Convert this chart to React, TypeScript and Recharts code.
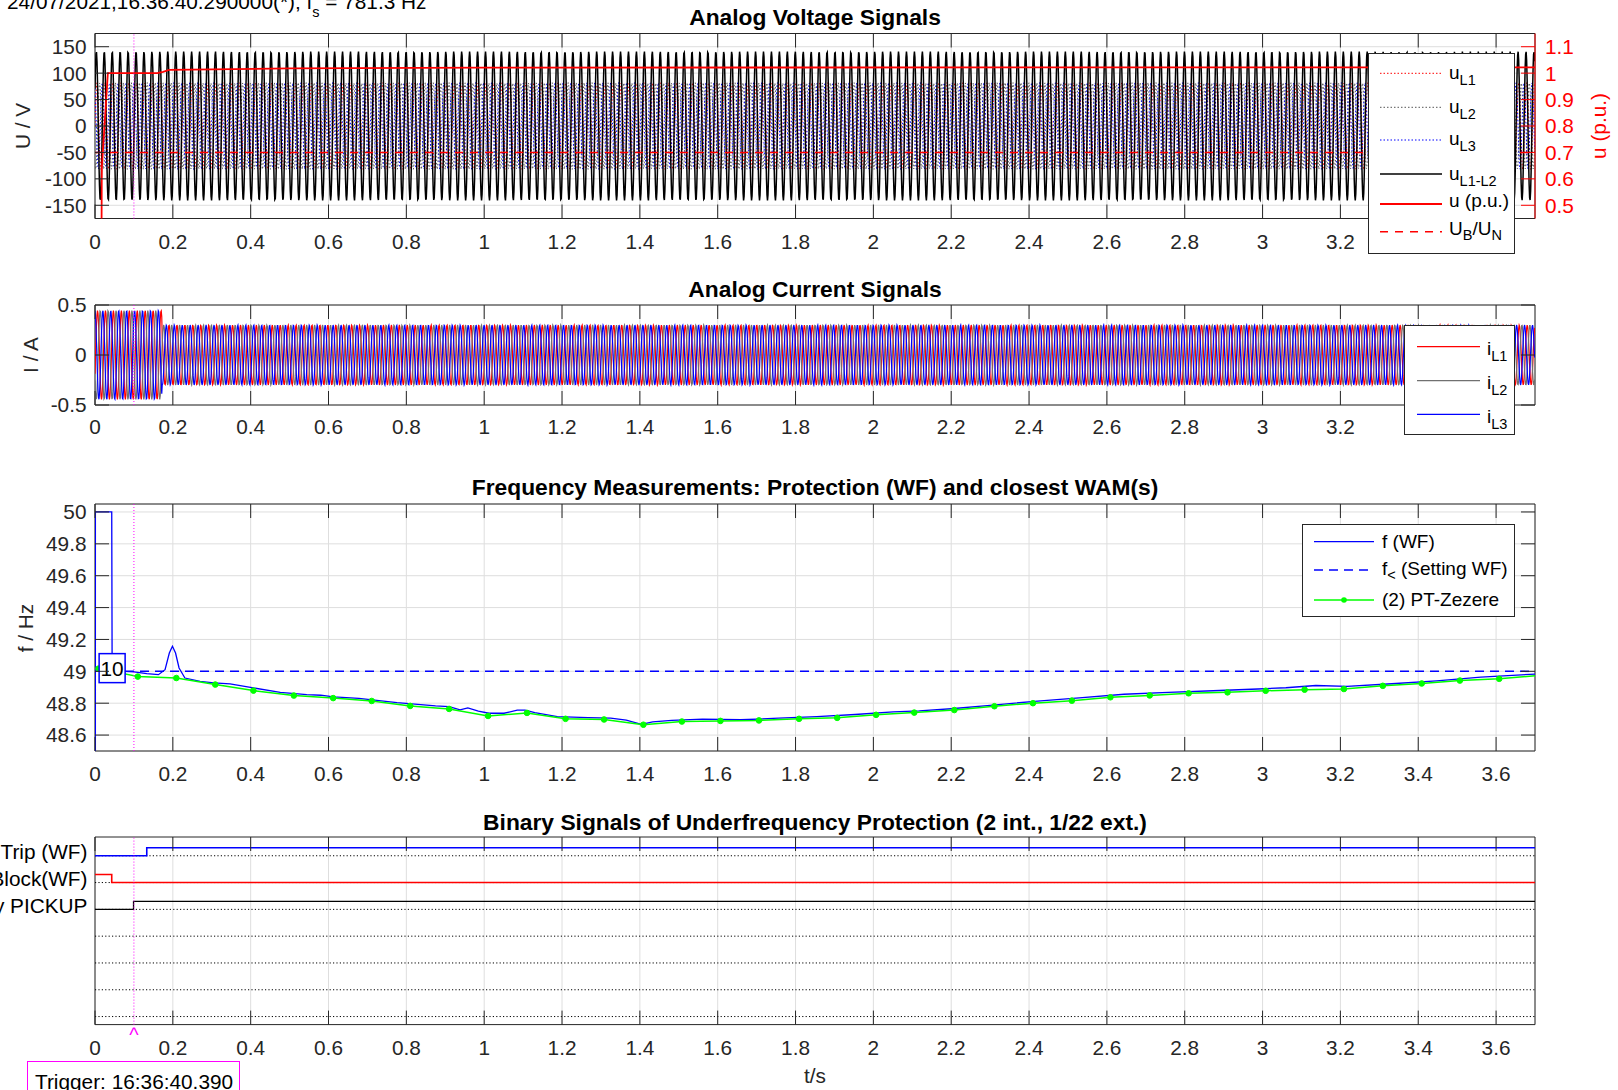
import React from 'react';
import {
  LineChart,
  Line,
  XAxis,
  YAxis,
  CartesianGrid,
  ReferenceLine,
  ReferenceArea,
  ReferenceDot,
} from 'recharts';

// record header
const recordStart = '24/07/2021,16:36:40.290000(*); f';
const sampleRate = 781.3; // Hz
const triggerTime = 0.1; // s
const triggerText = 'Trigger: 16:36:40.390';

// shared time axis
const tEnd = 3.7;
const timeTicks = [0, 0.2, 0.4, 0.6, 0.8, 1, 1.2, 1.4, 1.6, 1.8, 2, 2.2, 2.4, 2.6, 2.8, 3, 3.2, 3.4, 3.6];

// analog voltages
const voltDomain = [-175, 175];
const voltTicks = [-150, -100, -50, 0, 50, 100, 150];
const puDomain = [0.45, 1.15];
const puTicks = [0.5, 0.6, 0.7, 0.8, 0.9, 1, 1.1];
const waveFreq = 49; // Hz
const phaseVoltPeak = 82; // V
const lineVoltPeak = 141; // V
const puT = [0, 0.0165, 0.0175, 0.033, 0.16, 0.175, 0.19, 0.3, 0.5, 1.0, 3.7];
const puV = [0.2, 0.3, 0.64, 1.0, 1.0, 1.005, 1.012, 1.014, 1.018, 1.021, 1.022];
const ubUn = 0.7;

// analog currents
const currDomain = [-0.5, 0.5];
const currTicks = [-0.5, 0, 0.5];
const currStepT = [0, 0.172];
const currStepPeak = [0.445, 0.3];

// frequency
const freqDomain = [48.5, 50.05];
const freqTicks = [48.6, 48.8, 49, 49.2, 49.4, 49.6, 49.8, 50];
const fWfT = [0, 0.001, 0.043, 0.044, 0.077, 0.1, 0.133, 0.163, 0.18, 0.191, 0.199, 0.207, 0.216, 0.231, 0.27, 0.305, 0.347, 0.407, 0.476, 0.544, 0.58, 0.613, 0.678, 0.776, 0.875, 0.91, 0.938, 0.958, 0.985, 1.012, 1.051, 1.085, 1.105, 1.13, 1.188, 1.267, 1.325, 1.365, 1.404, 1.433, 1.482, 1.561, 1.659, 1.757, 1.855, 1.953, 2.051, 2.118, 2.2, 2.3, 2.414, 2.529, 2.644, 2.758, 2.873, 2.988, 3.06, 3.137, 3.217, 3.332, 3.447, 3.561, 3.7];
const fWfV = [0, 50, 50, 49.02, 49.0, 48.996, 48.985, 48.979, 49.01, 49.115, 49.157, 49.115, 49.021, 48.958, 48.937, 48.927, 48.921, 48.896, 48.868, 48.854, 48.85, 48.84, 48.83, 48.803, 48.783, 48.778, 48.758, 48.77, 48.75, 48.737, 48.737, 48.756, 48.756, 48.741, 48.716, 48.71, 48.706, 48.694, 48.667, 48.683, 48.692, 48.7, 48.696, 48.706, 48.716, 48.729, 48.745, 48.752, 48.765, 48.786, 48.812, 48.833, 48.856, 48.868, 48.878, 48.889, 48.897, 48.911, 48.905, 48.922, 48.94, 48.963, 48.983];
const fSetting = 49;
const pmuT = [0.009, 0.11, 0.209, 0.309, 0.407, 0.511, 0.612, 0.711, 0.81, 0.91, 1.01, 1.11, 1.209, 1.308, 1.409, 1.508, 1.607, 1.706, 1.809, 1.907, 2.007, 2.105, 2.208, 2.311, 2.41, 2.51, 2.609, 2.71, 2.81, 2.91, 3.008, 3.108, 3.209, 3.309, 3.409, 3.507, 3.608, 3.72];
const pmuV = [49.017, 48.967, 48.958, 48.917, 48.879, 48.848, 48.832, 48.814, 48.783, 48.764, 48.72, 48.739, 48.702, 48.698, 48.665, 48.685, 48.689, 48.692, 48.702, 48.708, 48.727, 48.741, 48.757, 48.781, 48.8, 48.816, 48.837, 48.849, 48.862, 48.868, 48.878, 48.885, 48.889, 48.909, 48.924, 48.942, 48.953, 48.977];
const fMarkText = '10';
const fMarkT = 0.044;
const fMarkV = 49.02;

// binary signals
const binNames = ['Trip (WF)', 'Block(WF)', 'Underfrequency PICKUP'];
const binChannels = 7;
const tripT = [0, 0.133, 3.7];
const tripS = [0, 1, 1];
const blockT = [0, 0.043, 3.7];
const blockS = [1, 0, 0];
const pickupT = [0, 0.099, 3.7];
const pickupS = [0, 1, 1];

// ---- tables built from the values above ----
const rad = Math.PI / 180;
const nSamples = Math.floor(tEnd * sampleRate) + 1;
const waveTable = Array.from({ length: nSamples }, (_, i) => {
  const t = i / sampleRate;
  const wt = 2 * Math.PI * waveFreq * t;
  let ip = currStepPeak[0];
  currStepT.forEach((ts, k) => {
    if (t >= ts) ip = currStepPeak[k];
  });
  return {
    t,
    uL1: phaseVoltPeak * Math.sin(wt),
    uL2: phaseVoltPeak * Math.sin(wt - 120 * rad),
    uL3: phaseVoltPeak * Math.sin(wt + 120 * rad),
    uL12: lineVoltPeak * Math.sin(wt + 30 * rad),
    iL1: ip * Math.sin(wt - 25 * rad),
    iL2: ip * Math.sin(wt - 145 * rad),
    iL3: ip * Math.sin(wt + 95 * rad),
  };
});
const pairs = (ts: number[], vs: number[]) => ts.map((t, i) => ({ t, v: vs[i] }));
const puData = pairs(puT, puV);
const ubUnData = [{ t: 0, v: ubUn }, { t: tEnd, v: ubUn }];
const fWfData = pairs(fWfT, fWfV);
const fSetData = [{ t: 0, v: fSetting }, { t: tEnd, v: fSetting }];
const pmuData = pairs(pmuT, pmuV);
const binLevel = (ch: number) => binChannels - ch;
const binData = (ts: number[], ss: number[], ch: number) =>
  ts.map((t, i) => ({ t, v: binLevel(ch) + 0.3 * ss[i] }));
const binBase = Array.from({ length: binChannels }, (_, ch) => [
  { t: 0, v: binLevel(ch) },
  { t: tEnd, v: binLevel(ch) },
]);

// ---- style ----
const AX = '#262626';
const GRID = '#dedede';
const RED = '#ff0000';
const BLUE = '#0000ff';
const GREEN = '#00ff00';
const MAGENTA = '#ff00ff';
const FONT = '"Liberation Sans", Arial, Helvetica, sans-serif';
const W = 1618;
const PLOT_L = 95;
const PLOT_R = 1535;
const TICK = 14;
const FS = 20.8;
const TITLE_FS = 22.8;
const LEG_FS = 19;
// the top two panels have their legend lying over the last x labels
const legendCoveredFrom = 3.4;

const fmt = (v: number) => String(Math.round(v * 1000) / 1000);

const xTick = (top: number, bottom: number, gap = 15.5, hideFrom = Infinity) => (p: any) => (
  <g>
    <line x1={p.x} x2={p.x} y1={bottom} y2={bottom - TICK} stroke={AX} />
    <line x1={p.x} x2={p.x} y1={top} y2={top + TICK} stroke={AX} />
    {p.payload.value < hideFrom && (
      <text x={p.x} y={bottom + gap} dy="0.71em" textAnchor="middle" fontSize={FS} fontFamily={FONT} fill={AX}>
        {fmt(p.payload.value)}
      </text>
    )}
  </g>
);

const yTick = (both: boolean) => (p: any) => (
  <g>
    <line x1={PLOT_L} x2={PLOT_L + TICK} y1={p.y} y2={p.y} stroke={AX} />
    {both && <line x1={PLOT_R - TICK} x2={PLOT_R} y1={p.y} y2={p.y} stroke={AX} />}
    <text x={PLOT_L - 8.5} y={p.y} dy="0.355em" textAnchor="end" fontSize={FS} fontFamily={FONT} fill={AX}>
      {fmt(p.payload.value)}
    </text>
  </g>
);

const puTick = (p: any) => (
  <g>
    <line x1={PLOT_R - TICK} x2={PLOT_R} y1={p.y} y2={p.y} stroke={RED} />
    <text x={PLOT_R + 10} y={p.y} dy="0.355em" textAnchor="start" fontSize={FS} fontFamily={FONT} fill={RED}>
      {fmt(p.payload.value)}
    </text>
  </g>
);

const binTick = (p: any) => (
  <text x={PLOT_L - 7.5} y={p.y - 4} dy="0.355em" textAnchor="end" fontSize={FS} fontFamily={FONT} fill="#000">
    {binNames[binChannels - p.payload.value]}
  </text>
);

const Abs = ({ x, y, angle = 0, color = AX, size = FS, bold = false, children }: any) => (
  <div
    style={{
      position: 'absolute',
      left: x,
      top: y,
      transform: `translate(-50%, -50%) rotate(${angle}deg)`,
      whiteSpace: 'nowrap',
      fontSize: size,
      lineHeight: `${size}px`,
      fontWeight: bold ? 'bold' : 'normal',
      color,
    }}
  >
    {children}
  </div>
);

const legText = { fontSize: LEG_FS, fontFamily: FONT, fill: '#000' };
const SUB_FS = 14.5;

export default function App() {
  return (
    <div
      style={{
        position: 'absolute',
        left: 0,
        top: 0,
        width: W,
        height: 1090,
        overflow: 'hidden',
        background: '#fff',
        fontFamily: FONT,
        color: AX,
      }}
    >
      {/* header */}
      <div style={{ position: 'absolute', left: 7, top: -8.5, fontSize: FS, lineHeight: '20px', whiteSpace: 'nowrap', color: '#000' }}>
        {recordStart}
        <span style={{ fontSize: 14.5, position: 'relative', top: 8 }}>s</span>
        {` = ${sampleRate} Hz`}
      </div>

      {/* voltage panel */}
      <div style={{ position: 'absolute', left: 0, top: 0 }}>
        <LineChart width={W} height={270} data={waveTable} margin={{ top: 33.5, right: 23, bottom: 21.5, left: 35 }}>
          <CartesianGrid stroke={GRID} />
          <XAxis dataKey="t" type="number" domain={[0, tEnd]} allowDataOverflow ticks={timeTicks} interval={0}
            height={30} axisLine={false} tickLine={false} tickSize={0} tick={xTick(33.5, 218.5, 15.5, legendCoveredFrom)} />
          <YAxis type="number" domain={voltDomain} allowDataOverflow ticks={voltTicks} interval={0} width={60}
            axisLine={false} tickLine={false} tickSize={0} tick={yTick(false)} />
          <YAxis yAxisId="right" orientation="right" type="number" domain={puDomain} allowDataOverflow ticks={puTicks}
            interval={0} width={60} axisLine={{ stroke: RED }} tickLine={false} tickSize={0} tick={puTick} />
          <Line dataKey="uL1" stroke={RED} strokeWidth={1} strokeDasharray="1.5 2" dot={false} activeDot={false} isAnimationActive={false} />
          <Line dataKey="uL2" stroke="#555555" strokeWidth={1} strokeDasharray="1.5 2" dot={false} activeDot={false} isAnimationActive={false} />
          <Line dataKey="uL3" stroke={BLUE} strokeWidth={1} strokeDasharray="1.5 2" dot={false} activeDot={false} isAnimationActive={false} />
          <Line dataKey="uL12" stroke="#000" strokeWidth={1.5} dot={false} activeDot={false} isAnimationActive={false} />
          <Line yAxisId="right" data={puData} dataKey="v" stroke={RED} strokeWidth={1.8} dot={false} activeDot={false} isAnimationActive={false} />
          <Line yAxisId="right" data={ubUnData} dataKey="v" stroke={RED} strokeWidth={1.5} strokeDasharray="8 7" dot={false} activeDot={false} isAnimationActive={false} />
          <ReferenceLine x={triggerTime} stroke={MAGENTA} strokeDasharray="1 2" />
          <ReferenceArea x1={0} x2={tEnd} y1={voltDomain[0]} y2={voltDomain[1]} fill="none" stroke={AX} ifOverflow="visible" />
        </LineChart>
      </div>

      {/* current panel */}
      <div style={{ position: 'absolute', left: 0, top: 270 }}>
        <LineChart width={W} height={170} data={waveTable} margin={{ top: 35, right: 83, bottom: 5, left: 35 }}>
          <CartesianGrid stroke={GRID} />
          <XAxis dataKey="t" type="number" domain={[0, tEnd]} allowDataOverflow ticks={timeTicks} interval={0}
            height={30} axisLine={false} tickLine={false} tickSize={0} tick={xTick(35, 135, 14, legendCoveredFrom)} />
          <YAxis type="number" domain={currDomain} allowDataOverflow ticks={currTicks} interval={0} width={60}
            axisLine={false} tickLine={false} tickSize={0} tick={yTick(true)} />
          <Line dataKey="iL1" stroke={RED} strokeWidth={1.2} dot={false} activeDot={false} isAnimationActive={false} />
          <Line dataKey="iL2" stroke="#707070" strokeWidth={1.2} dot={false} activeDot={false} isAnimationActive={false} />
          <Line dataKey="iL3" stroke={BLUE} strokeWidth={1.2} dot={false} activeDot={false} isAnimationActive={false} />
          <ReferenceLine x={triggerTime} stroke={MAGENTA} strokeDasharray="1 2" />
          <ReferenceArea x1={0} x2={tEnd} y1={currDomain[0]} y2={currDomain[1]} fill="none" stroke={AX} ifOverflow="visible" />
        </LineChart>
      </div>

      {/* frequency panel */}
      <div style={{ position: 'absolute', left: 0, top: 440 }}>
        <LineChart width={W} height={360} margin={{ top: 64, right: 83, bottom: 19, left: 35 }}>
          <CartesianGrid stroke={GRID} />
          <XAxis dataKey="t" type="number" domain={[0, tEnd]} allowDataOverflow ticks={timeTicks} interval={0}
            height={30} axisLine={false} tickLine={false} tickSize={0} tick={xTick(64, 311)} />
          <YAxis type="number" domain={freqDomain} allowDataOverflow ticks={freqTicks} interval={0} width={60}
            axisLine={false} tickLine={false} tickSize={0} tick={yTick(true)} />
          <Line data={fWfData} dataKey="v" stroke={BLUE} strokeWidth={1.3} dot={false} activeDot={false} isAnimationActive={false} />
          <Line data={fSetData} dataKey="v" stroke={BLUE} strokeWidth={1.5} strokeDasharray="9 6" dot={false} activeDot={false} isAnimationActive={false} />
          <Line data={pmuData} dataKey="v" stroke={GREEN} strokeWidth={1.5}
            dot={{ r: 2.8, fill: GREEN, stroke: GREEN, strokeWidth: 1 }} activeDot={false} isAnimationActive={false} />
          <ReferenceLine x={triggerTime} stroke={MAGENTA} strokeDasharray="1 2" />
          <ReferenceDot x={fMarkT} y={fMarkV} ifOverflow="visible"
            shape={(p: any) => (
              <g>
                <rect x={p.cx - 13} y={p.cy - 14.5} width={26} height={29} fill="#fff" stroke={BLUE} strokeWidth={1.5} />
                <text x={p.cx} y={p.cy} dy="0.355em" textAnchor="middle" fontSize={FS} fontFamily={FONT} fill="#000">
                  {fMarkText}
                </text>
              </g>
            )} />
          <ReferenceArea x1={0} x2={tEnd} y1={freqDomain[0]} y2={freqDomain[1]} fill="none" stroke={AX} ifOverflow="visible" />
        </LineChart>
      </div>

      {/* binary panel */}
      <div style={{ position: 'absolute', left: 0, top: 800 }}>
        <LineChart width={W} height={290} margin={{ top: 37, right: 83, bottom: 35.4, left: 35 }}>
          <CartesianGrid stroke={GRID} horizontal={false} />
          <XAxis dataKey="t" type="number" domain={[0, tEnd]} allowDataOverflow ticks={timeTicks} interval={0}
            height={30} axisLine={false} tickLine={false} tickSize={0} tick={xTick(37, 224.6)} />
          <YAxis type="number" domain={[0.7, 7.7]} allowDataOverflow ticks={[7, 6, 5]} interval={0} width={60}
            axisLine={false} tickLine={false} tickSize={0} tick={binTick} />
          {binBase.map((d, ch) => (
            <Line key={ch} data={d} dataKey="v" stroke="#000" strokeWidth={1} strokeDasharray="1.2 2.2"
              dot={false} activeDot={false} isAnimationActive={false} />
          ))}
          <Line data={binData(tripT, tripS, 0)} type="stepAfter" dataKey="v" stroke={BLUE} strokeWidth={1.6} dot={false} activeDot={false} isAnimationActive={false} />
          <Line data={binData(blockT, blockS, 1)} type="stepAfter" dataKey="v" stroke={RED} strokeWidth={1.6} dot={false} activeDot={false} isAnimationActive={false} />
          <Line data={binData(pickupT, pickupS, 2)} type="stepAfter" dataKey="v" stroke="#000" strokeWidth={1.3} dot={false} activeDot={false} isAnimationActive={false} />
          <ReferenceLine x={triggerTime} stroke={MAGENTA} strokeDasharray="1 2"
            label={{ value: '^', position: 'bottom', offset: 3, fill: MAGENTA, fontSize: 20, fontFamily: FONT }} />
          <ReferenceArea x1={0} x2={tEnd} y1={0.7} y2={7.7} fill="none" stroke={AX} ifOverflow="visible" />
        </LineChart>
      </div>

      {/* titles */}
      <Abs x={815} y={16.5} size={TITLE_FS} bold color="#000">Analog Voltage Signals</Abs>
      <Abs x={815} y={289} size={TITLE_FS} bold color="#000">Analog Current Signals</Abs>
      <Abs x={815} y={487} size={TITLE_FS} bold color="#000">Frequency Measurements: Protection (WF) and closest WAM(s)</Abs>
      <Abs x={815} y={821.5} size={TITLE_FS} bold color="#000">Binary Signals of Underfrequency Protection (2 int., 1/22 ext.)</Abs>

      {/* axis labels */}
      <Abs x={23} y={126} angle={-90}>U / V</Abs>
      <Abs x={1599} y={126} angle={-90} color={RED}>u (p.u.)</Abs>
      <Abs x={31} y={355} angle={-90}>I / A</Abs>
      <Abs x={26} y={628} angle={-90}>f / Hz</Abs>
      <Abs x={815} y={1076}>t/s</Abs>

      {/* voltage legend */}
      <svg style={{ position: 'absolute', left: 1368, top: 53 }} width={147} height={201}>
        <rect x={0.5} y={0.5} width={146} height={200} fill="#fff" stroke={AX} />
        <line x1={12} x2={74} y1={20.3} y2={20.3} stroke={RED} strokeDasharray="1.5 2" />
        <text x={81} y={26.3} {...legText}>u<tspan dy={6} fontSize={SUB_FS}>L1</tspan></text>
        <line x1={12} x2={74} y1={54.3} y2={54.3} stroke="#555555" strokeDasharray="1.5 2" />
        <text x={81} y={60.3} {...legText}>u<tspan dy={6} fontSize={SUB_FS}>L2</tspan></text>
        <line x1={12} x2={74} y1={87} y2={87} stroke={BLUE} strokeDasharray="1.5 2" />
        <text x={81} y={92} {...legText}>u<tspan dy={6} fontSize={SUB_FS}>L3</tspan></text>
        <line x1={12} x2={74} y1={121} y2={121} stroke="#000" strokeWidth={1.5} />
        <text x={81} y={127} {...legText}>u<tspan dy={6} fontSize={SUB_FS}>L1-L2</tspan></text>
        <line x1={12} x2={74} y1={151} y2={151} stroke={RED} strokeWidth={1.8} />
        <text x={81} y={153.7} {...legText}>u (p.u.)</text>
        <line x1={12} x2={74} y1={178.7} y2={178.7} stroke={RED} strokeWidth={1.5} strokeDasharray="8 7" />
        <text x={81} y={182} {...legText}>
          U<tspan dy={5} fontSize={SUB_FS}>B</tspan>
          <tspan dy={-5}>/U</tspan>
          <tspan dy={5} fontSize={SUB_FS}>N</tspan>
        </text>
      </svg>

      {/* current legend */}
      <svg style={{ position: 'absolute', left: 1404, top: 325 }} width={111} height={110}>
        <rect x={0.5} y={0.5} width={110} height={109} fill="#fff" stroke={AX} />
        <line x1={13} x2={76} y1={21.7} y2={21.7} stroke={RED} strokeWidth={1.2} />
        <text x={83} y={30} {...legText}>i<tspan dy={6} fontSize={SUB_FS}>L1</tspan></text>
        <line x1={13} x2={76} y1={55.7} y2={55.7} stroke="#707070" strokeWidth={1.2} />
        <text x={83} y={64} {...legText}>i<tspan dy={6} fontSize={SUB_FS}>L2</tspan></text>
        <line x1={13} x2={76} y1={89.3} y2={89.3} stroke={BLUE} strokeWidth={1.2} />
        <text x={83} y={97.6} {...legText}>i<tspan dy={6} fontSize={SUB_FS}>L3</tspan></text>
      </svg>

      {/* frequency legend */}
      <svg style={{ position: 'absolute', left: 1302, top: 524 }} width={213} height={93}>
        <rect x={0.5} y={0.5} width={212} height={92} fill="#fff" stroke={AX} />
        <line x1={12} x2={72} y1={17.7} y2={17.7} stroke={BLUE} strokeWidth={1.3} />
        <text x={80} y={23.7} {...legText}>f (WF)</text>
        <line x1={12} x2={72} y1={46} y2={46} stroke={BLUE} strokeWidth={1.5} strokeDasharray="9 6" />
        <text x={80} y={51} {...legText}>
          f<tspan dy={5} fontSize={SUB_FS}>{'<'}</tspan>
          <tspan dy={-5}> (Setting WF)</tspan>
        </text>
        <line x1={12} x2={72} y1={76} y2={76} stroke={GREEN} strokeWidth={1.5} />
        <circle cx={42} cy={76} r={2.8} fill={GREEN} />
        <text x={80} y={81.7} {...legText}>(2) PT-Zezere</text>
      </svg>

      {/* trigger box */}
      <div
        style={{
          position: 'absolute',
          left: 27,
          top: 1061,
          width: 213,
          height: 40,
          border: `1px solid ${MAGENTA}`,
          boxSizing: 'border-box',
          paddingTop: 10,
          paddingLeft: 7,
          fontSize: FS,
          lineHeight: '20px',
          whiteSpace: 'nowrap',
          color: '#000',
          background: '#fff',
        }}
      >
        {triggerText}
      </div>
    </div>
  );
}
